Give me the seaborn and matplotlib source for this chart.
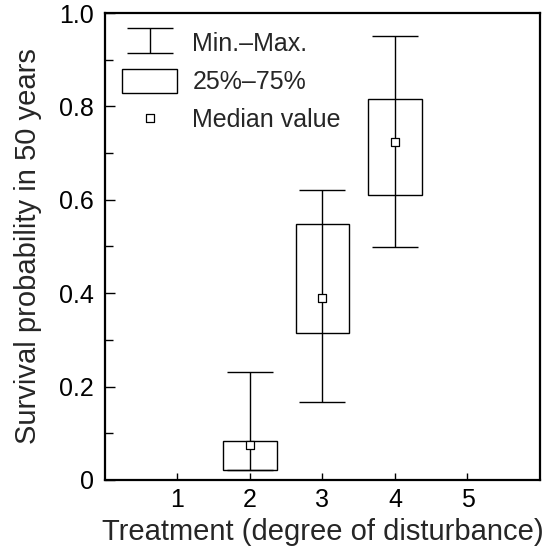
import numpy as np
import seaborn as sns
import matplotlib.pyplot as plt
from matplotlib.ticker import MultipleLocator

# summary values
treatment = [2, 3, 4]
val_min = [0.021, 0.168, 0.498]
val_q1 = [0.021, 0.315, 0.610]
val_med = [0.075, 0.390, 0.724]
val_q3 = [0.084, 0.548, 0.816]
val_max = [0.231, 0.620, 0.951]

x_ticks = [1, 2, 3, 4, 5]
y_ticks = [0, 0.2, 0.4, 0.6, 0.8, 1.0]
y_ticklabels = ['0', '0.2', '0.4', '0.6', '0.8', '1.0']

sns.set_style('ticks')
plt.rcParams['font.family'] = ['Liberation Sans', 'DejaVu Sans']

fig = plt.figure(figsize=(5.48, 5.58), dpi=100)
ax = fig.add_axes([0.1916, 0.1398, 0.7938, 0.8369])

t = np.array(treatment)
med = np.array(val_med)
yerr = [med - np.array(val_min), np.array(val_max) - med]

eb = ax.errorbar(t, med, yerr=yerr, fmt='none', ecolor='black', elinewidth=1,
                 capsize=16.5, capthick=1, zorder=2)
bx = ax.bar(t, np.array(val_q3) - np.array(val_q1), bottom=val_q1, width=0.74,
            fill=False, edgecolor='black', linewidth=1, zorder=3)
sns.scatterplot(x=t, y=med, marker='s', s=40, color='white', edgecolor='black',
                linewidth=0.9, ax=ax, zorder=4, legend=False)
md = ax.collections[-1]

ax.set_xlim(0, 6)
ax.set_ylim(0, 1.0)
ax.set_xticks(x_ticks)
ax.set_yticks(y_ticks)
ax.set_yticklabels(y_ticklabels)
ax.yaxis.set_minor_locator(MultipleLocator(0.1))
ax.tick_params(axis='both', which='both', direction='in', labelsize=18, width=1, colors='black')
ax.tick_params(axis='y', which='major', length=7, pad=8)
ax.tick_params(axis='y', which='minor', length=6)
ax.tick_params(axis='x', length=5, pad=6)

for s in ax.spines.values():
    s.set_linewidth(1.6)
    s.set_color('black')

ax.set_xlabel('Treatment (degree of disturbance)', fontsize=21, labelpad=4)
ax.set_ylabel('Survival probability in 50 years', fontsize=21, labelpad=12)

ax.legend([eb, bx, md], ['Min.\u2013Max.', '25%\u201375%', 'Median value'],
          loc='upper left', frameon=False, fontsize=18, handlelength=2.2,
          handleheight=1.1, labelspacing=0.5, borderaxespad=0.2, handletextpad=0.6,
          borderpad=0.5)

fig.savefig('out.png', dpi=100)
